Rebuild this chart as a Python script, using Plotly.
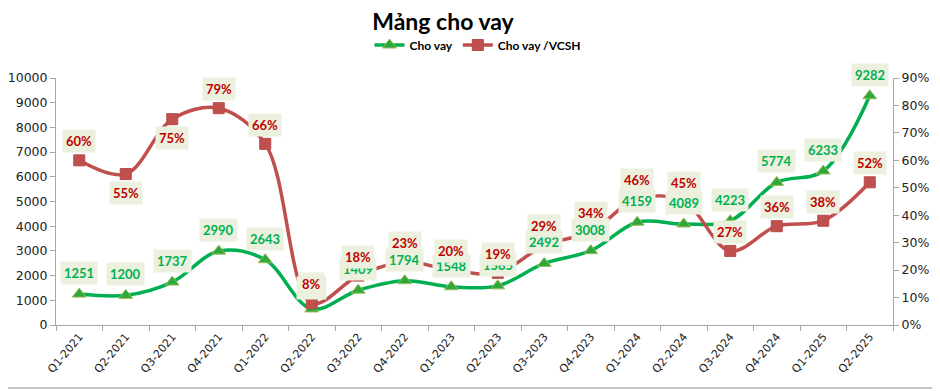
import plotly.graph_objects as go

quarters = ["Q1-2021", "Q2-2021", "Q3-2021", "Q4-2021", "Q1-2022", "Q2-2022",
            "Q3-2022", "Q4-2022", "Q1-2023", "Q2-2023", "Q3-2023", "Q4-2023",
            "Q1-2024", "Q2-2024", "Q3-2024", "Q4-2024", "Q1-2025", "Q2-2025"]
cho_vay = [1251, 1200, 1737, 2990, 2643, 650, 1409, 1794, 1548, 1585, 2492, 3008,
           4159, 4089, 4223, 5774, 6233, 9282]
ratio = [0.60, 0.55, 0.75, 0.79, 0.66, 0.08, 0.18, 0.23, 0.20, 0.19, 0.29, 0.34,
         0.46, 0.45, 0.27, 0.36, 0.38, 0.52]
ratio_label_below = [False, True, True, False, False, False, False, False, False,
                     False, False, False, False, False, False, False, False, False]

GREEN = "#00B050"
RED = "#C0504D"
LABEL_BG = "#EBF1DE"
TICKFONT = dict(family="DejaVu Sans", size=12.5, color="#222222")

# page body has an 8px margin; plot area aimed at x 56..893, y 78..325 in the window
L, R, T, B = 48, 55, 70, 74
PW, PH = 940 - L - R, 391 - T - B

fig = go.Figure()
fig.add_trace(go.Scatter(
    x=quarters, y=cho_vay, name="Cho vay", mode="lines+markers",
    line=dict(color=GREEN, width=3.5, shape="spline", smoothing=1.0),
    marker=dict(symbol="triangle-up", size=12, color="#2EA83A",
                line=dict(color="#9BBB59", width=1)),
    yaxis="y"))
fig.add_trace(go.Scatter(
    x=quarters, y=ratio, name="Cho vay /VCSH", mode="lines+markers",
    line=dict(color=RED, width=3.5, shape="spline", smoothing=1.0),
    marker=dict(symbol="square", size=11, color=RED,
                line=dict(color="#B84A47", width=1)),
    yaxis="y2"))

annotations = []
for q, v in zip(quarters, cho_vay):
    annotations.append(dict(
        x=q, y=v, xref="x", yref="y", text=str(v), showarrow=False,
        yshift=21, bgcolor=LABEL_BG, borderpad=3,
        font=dict(family="Lato", size=13, color=GREEN, weight="bold")))
for q, r, below in zip(quarters, ratio, ratio_label_below):
    annotations.append(dict(
        x=q, y=r, xref="x", yref="y2", text=f"{round(r*100)}%", showarrow=False,
        yshift=-19 if below else 19, bgcolor=LABEL_BG, borderpad=3,
        font=dict(family="Lato", size=13, color="#C00000", weight="bold")))

fig.update_layout(
    width=940, height=391,
    margin=dict(l=L, r=R, t=T, b=B, autoexpand=False),
    paper_bgcolor="white", plot_bgcolor="white",
    title=dict(text="Mảng cho vay", x=(443 - 8) / 940, xanchor="center",
               y=1 - (22 - 8) / 391, yanchor="middle",
               font=dict(family="Lato", size=23, color="black", weight="bold")),
    showlegend=True,
    legend=dict(orientation="h", x=(478 - 8 - L) / PW, xanchor="center",
                y=1 + (78 - 45) / PH, yanchor="middle",
                font=dict(family="Lato", size=12, color="black", weight="bold"),
                itemwidth=30, tracegroupgap=0, bgcolor="rgba(0,0,0,0)"),
    xaxis=dict(type="category", showgrid=False, showline=True, linecolor="#A6A6A6",
               linewidth=1, ticks="outside", ticklen=5, tickcolor="#A6A6A6",
               tickson="boundaries", tickangle=-50,
               tickfont=dict(family="DejaVu Sans", size=11, color="#222222"),
               range=[-0.5, 17.5]),
    yaxis=dict(range=[0, 10000], dtick=1000, tickformat="d", showgrid=False,
               showline=True, linecolor="#A6A6A6", linewidth=1, ticks="outside",
               ticklen=5, tickcolor="#A6A6A6", tickfont=TICKFONT, zeroline=False),
    yaxis2=dict(range=[0, 0.9], dtick=0.1, tickformat=".0%", overlaying="y",
                side="right", showgrid=False, showline=True, linecolor="#A6A6A6",
                linewidth=1, ticks="outside", ticklen=5, tickcolor="#A6A6A6",
                tickfont=TICKFONT, zeroline=False),
    annotations=annotations,
    shapes=[
        dict(type="line", xref="paper", yref="paper",
             x0=1 + 42 / PW, x1=1 + 42 / PW,
             y0=-63 / PH, y1=1 + (78 - 8) / PH,
             line=dict(color="#8C8C8C", width=1)),
        dict(type="line", xref="paper", yref="paper",
             x0=-L / PW, x1=1 + 42 / PW,
             y0=-63 / PH, y1=-63 / PH,
             line=dict(color="#8C8C8C", width=1)),
    ],
)

fig.write_html("out.html")
